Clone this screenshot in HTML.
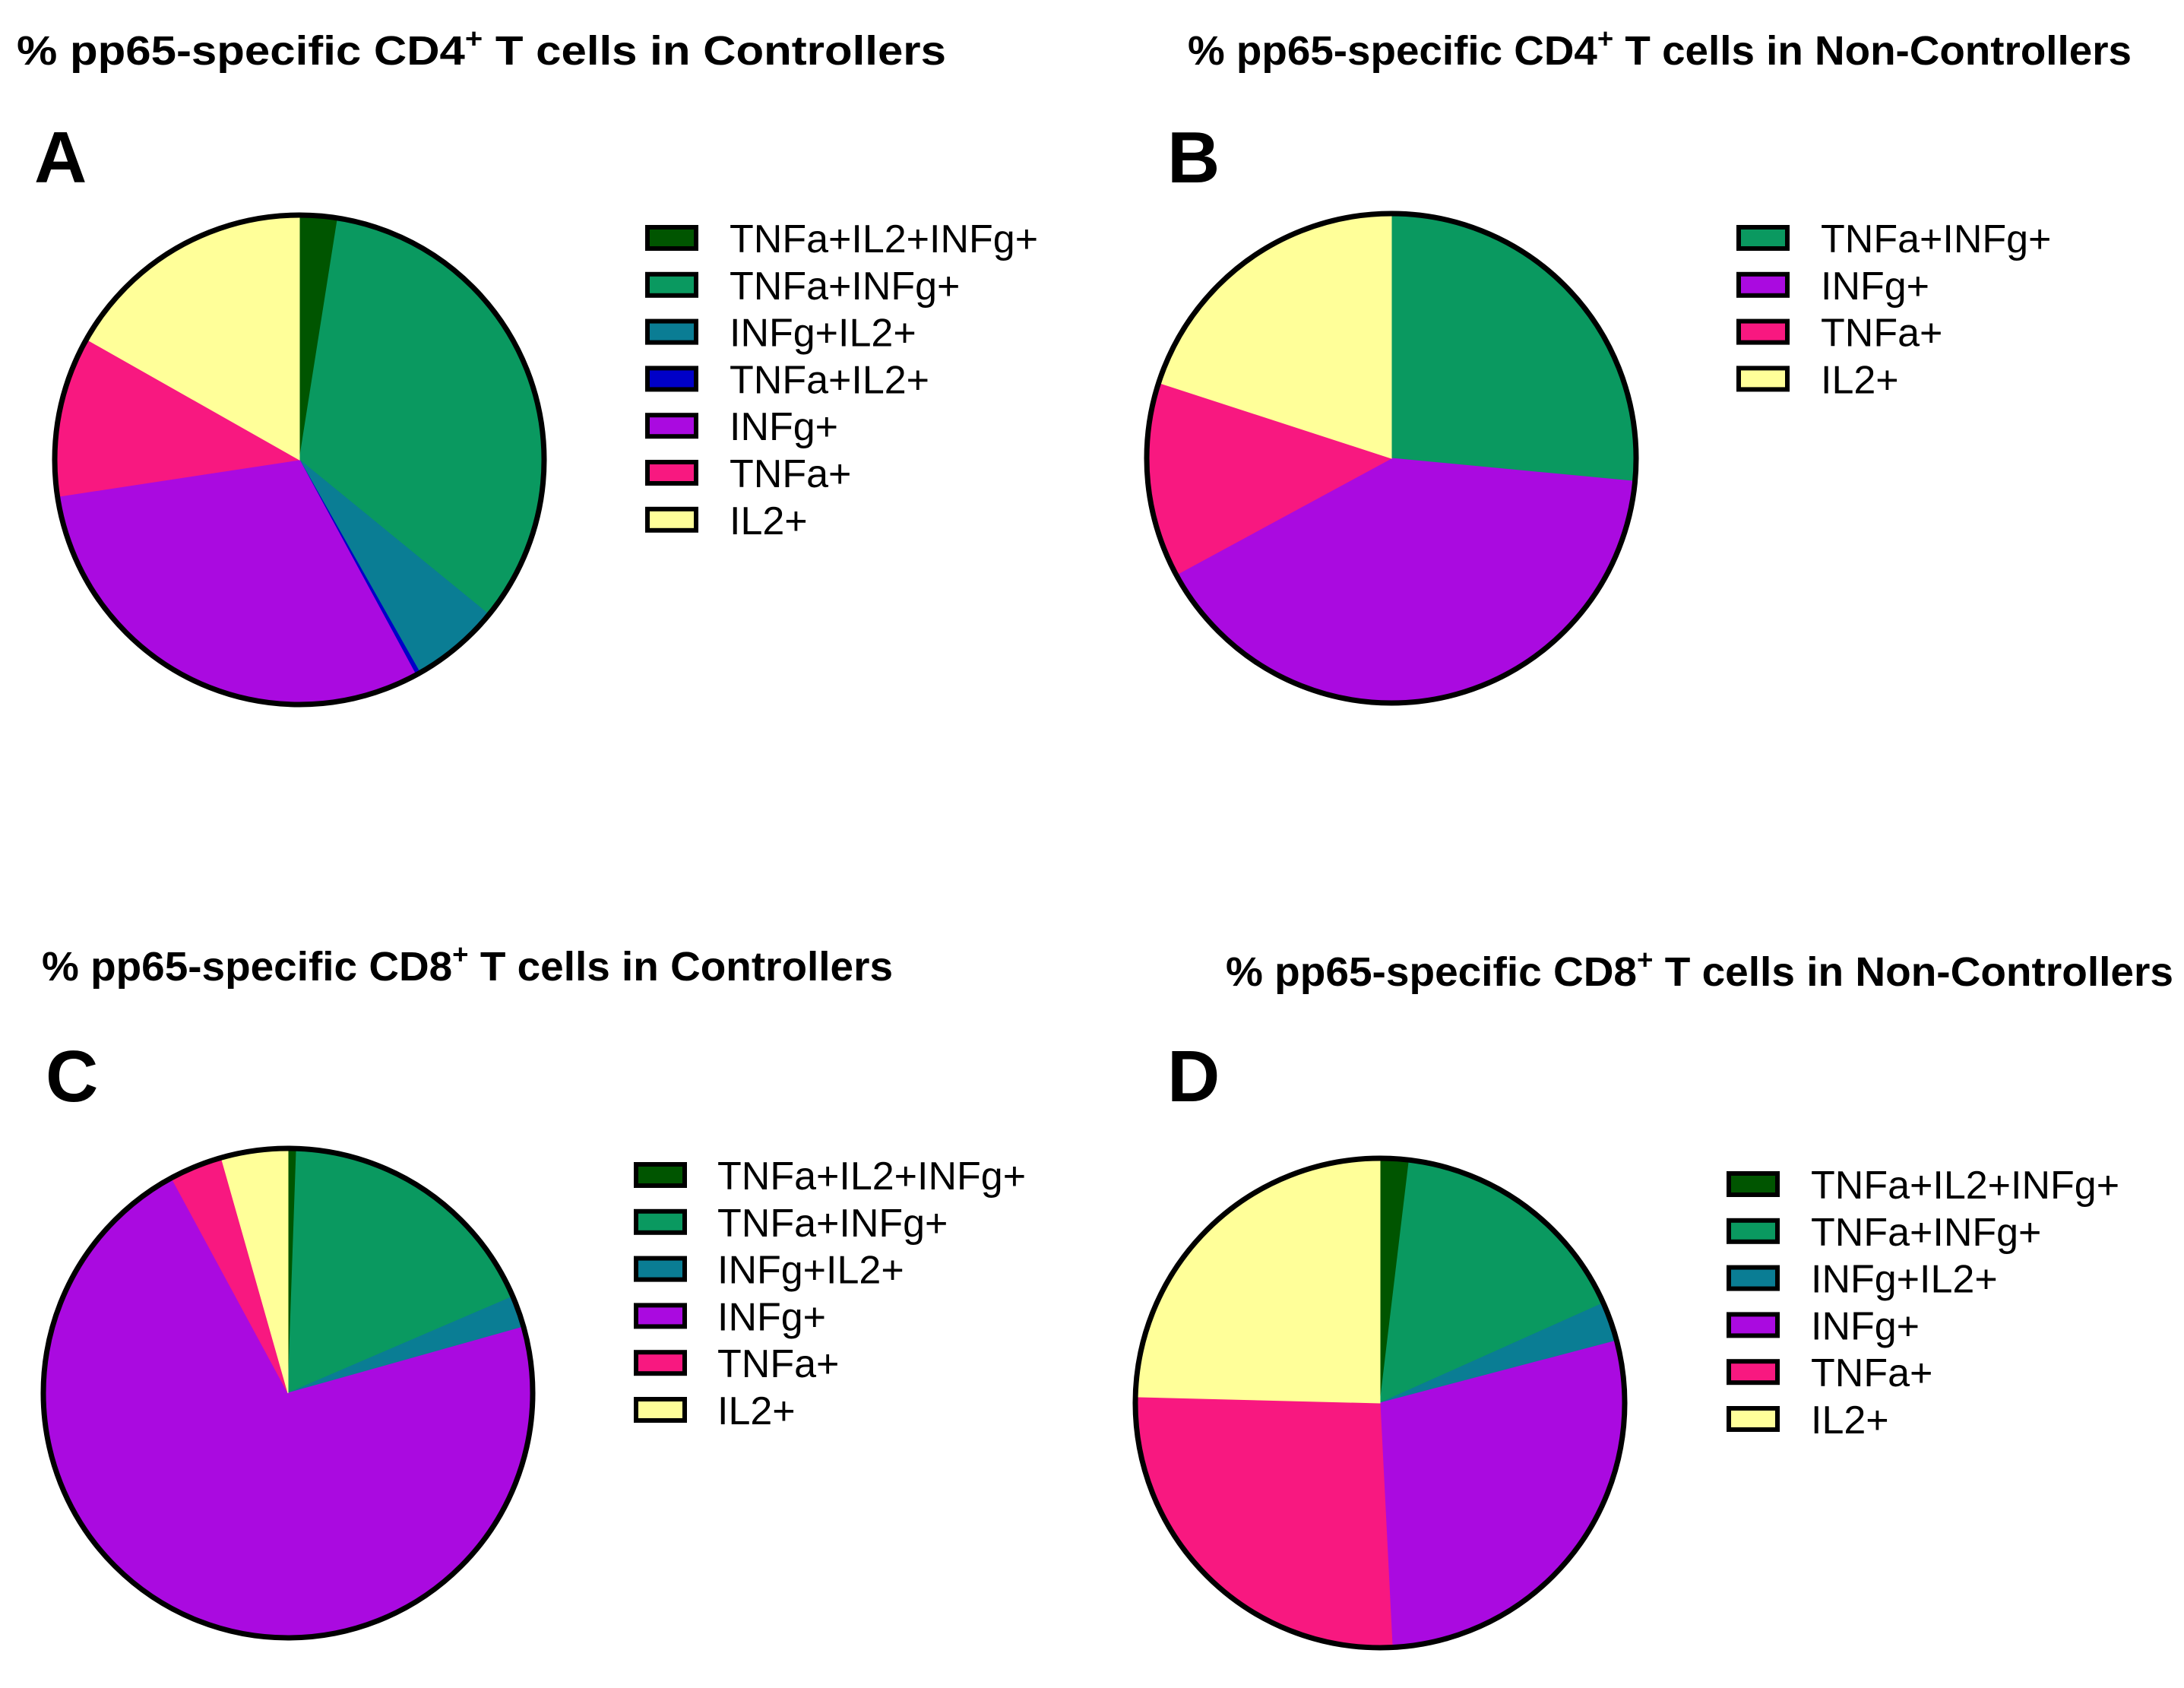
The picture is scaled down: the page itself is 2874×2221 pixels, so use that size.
<!DOCTYPE html>
<html><head><meta charset="utf-8"><style>
html,body{margin:0;padding:0;background:#fff}
svg{display:block}
text{font-family:"Liberation Sans",Arial,sans-serif}
</style></head><body>
<svg id="fig" width="2874" height="2221" viewBox="0 0 2874 2221" xmlns="http://www.w3.org/2000/svg">
<rect width="2874" height="2221" fill="#fff"/>
</svg>
<script>
const colorMap = {"TNFa+IL2+INFg+":"#005500","TNFa+INFg+":"#0a9960","INFg+IL2+":"#0a7d94","TNFa+IL2+":"#0000c8","INFg+":"#aa0ae0","TNFa+":"#f81880","IL2+":"#ffff99"};
const catsA = ["TNFa+IL2+INFg+","TNFa+INFg+","INFg+IL2+","TNFa+IL2+","INFg+","TNFa+","IL2+"];
const valsA = [2.5,33.4,5.9,0.3,30.5,10.6,16.8];
const catsB = ["TNFa+INFg+","INFg+","TNFa+","IL2+"];
const valsB = [26.5,40.6,12.9,20.0];
const catsC = ["TNFa+IL2+INFg+","TNFa+INFg+","INFg+IL2+","INFg+","TNFa+","IL2+"];
const valsC = [0.55,18.0,2.1,71.5,3.5,4.4];
const catsD = ["TNFa+IL2+INFg+","TNFa+INFg+","INFg+IL2+","INFg+","TNFa+","IL2+"];
const valsD = [1.9,16.4,2.6,28.3,26.2,24.6];

const NS="http://www.w3.org/2000/svg";
const svg=document.getElementById('fig');
function el(tag,attrs,parent){const e=document.createElementNS(NS,tag);for(const k in attrs)e.setAttribute(k,attrs[k]);(parent||svg).appendChild(e);return e;}

const panels=[
 {id:'a',letter:'A',cats:catsA,vals:valsA,title:['% pp65-specific CD4','+',' T cells in Controllers'],tx:22,ty:85,tlen:1223,lx:45,ly:240,cx:394,cy:605,r:322,bx:849,by:296,textx:960,dy:61.8},
 {id:'b',letter:'B',cats:catsB,vals:valsB,title:['% pp65-specific CD4','+',' T cells in Non-Controllers'],tx:1563,ty:85,tlen:1242,lx:1536,ly:240,cx:1831,cy:603,r:322,bx:2285,by:296,textx:2396,dy:61.8},
 {id:'c',letter:'C',cats:catsC,vals:valsC,title:['% pp65-specific CD8','+',' T cells in Controllers'],tx:55,ty:1290,tlen:1120,lx:60,ly:1449,cx:379,cy:1833,r:322,bx:834,by:1529,textx:944,dy:61.8},
 {id:'d',letter:'D',cats:catsD,vals:valsD,title:['% pp65-specific CD8','+',' T cells in Non-Controllers'],tx:1613,ty:1297,tlen:1247,lx:1536,ly:1449,cx:1816,cy:1846,r:322,bx:2272,by:1541,textx:2383,dy:61.8}
];

panels.forEach(p=>{
  const g=el('g',{});
  
  
  const t=el('text',{x:p.tx,y:p.ty,'font-size':54,'font-weight':'bold',fill:'#000',textLength:p.tlen,lengthAdjust:'spacingAndGlyphs'},g);
  
  
  const s1=el('tspan',{},t);s1.textContent=p.title[0];
  const s2=el('tspan',{dy:-22,'font-size':36},t);s2.textContent=p.title[1];
  const s3=el('tspan',{dy:22},t);s3.textContent=p.title[2];
  const L=el('text',{x:p.lx,y:p.ly,'font-size':96,'font-weight':'bold',fill:'#000'},g);
  
  
  L.textContent=p.letter;
  const total=p.vals.reduce((a,b)=>a+b,0);
  let acc=0;
  p.vals.forEach((v,i)=>{
    const a0=acc/total*2*Math.PI; acc+=v; const a1=acc/total*2*Math.PI;
    const x0=p.cx+p.r*Math.sin(a0),y0=p.cy-p.r*Math.cos(a0);
    const x1=p.cx+p.r*Math.sin(a1),y1=p.cy-p.r*Math.cos(a1);
    const large=(a1-a0)>Math.PI?1:0;
    const path=el('path',{d:`M${p.cx},${p.cy} L${x0},${y0} A${p.r},${p.r} 0 ${large} 1 ${x1},${y1} Z`,fill:colorMap[p.cats[i]],stroke:colorMap[p.cats[i]],'stroke-width':1},g);
    
    
  });
  const c=el('circle',{cx:p.cx,cy:p.cy,r:p.r,fill:'none',stroke:'#000','stroke-width':7},g);
  
  
  p.cats.forEach((cat,i)=>{
    const y=p.by+i*p.dy;
    const lg=el('g',{},g);
    
    
    el('rect',{x:p.bx+3,y:y+3,width:64,height:28,fill:colorMap[cat],stroke:'#000','stroke-width':6},lg);
    const tt=el('text',{x:p.textx,y:y+36,'font-size':52,fill:'#000'},lg);
    tt.textContent=cat;
  });
});
</script>
</body></html>
